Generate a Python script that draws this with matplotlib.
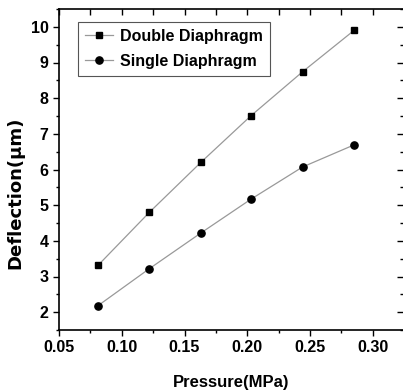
import matplotlib
matplotlib.use("Agg")
import matplotlib.pyplot as plt
from matplotlib.ticker import MultipleLocator

pressure = [0.081, 0.122, 0.163, 0.203, 0.244, 0.285]
double_defl = [3.31, 4.80, 6.20, 7.51, 8.74, 9.90]
single_defl = [2.18, 3.22, 4.22, 5.17, 6.07, 6.69]
x_ticks = [0.05, 0.10, 0.15, 0.20, 0.25, 0.30]
y_ticks = [2, 3, 4, 5, 6, 7, 8, 9, 10]

plt.rcParams['font.family'] = ['Liberation Sans', 'DejaVu Sans']
plt.rcParams['font.weight'] = 'bold'

fig = plt.figure(figsize=(4.03, 3.90), dpi=100)
ax = fig.add_axes([59/403, 60/390, 344/403, 321/390])

ax.plot(pressure, double_defl, color='#999999', lw=0.9, marker='s', ms=4.6,
        mfc='black', mec='black', label='Double Diaphragm')
ax.plot(pressure, single_defl, color='#999999', lw=0.9, marker='o', ms=5.2,
        mfc='black', mec='black', label='Single Diaphragm')

ax.set_xlim(0.05, 0.324)
ax.set_ylim(1.5, 10.5)
ax.set_xticks(x_ticks)
ax.set_xticklabels([f"{v:.2f}" for v in x_ticks])
ax.set_yticks(y_ticks)
ax.xaxis.set_minor_locator(MultipleLocator(0.025))
ax.yaxis.set_minor_locator(MultipleLocator(0.5))

ax.tick_params(axis='both', which='major', labelsize=11.5, width=1.0, length=4.5,
               direction='out', pad=3)
ax.tick_params(axis='both', which='minor', width=1.0, length=2.5, direction='out')
ax.tick_params(axis='x', which='both', top=True)
ax.tick_params(axis='y', which='both', right=True)
for t in ax.get_xticklabels() + ax.get_yticklabels():
    t.set_fontweight('bold')

# Top and right ticks point inward
for tick in ax.xaxis.get_major_ticks() + ax.xaxis.get_minor_ticks():
    tick.tick2line.set_marker(3)  # TICKDOWN
for tick in ax.yaxis.get_major_ticks() + ax.yaxis.get_minor_ticks():
    tick.tick2line.set_marker(0)  # TICKLEFT
for tick in ax.xaxis.get_minor_ticks():
    tick.tick2line.set_markersize(4.5)

for s in ax.spines.values():
    s.set_linewidth(1.2)
ax.spines['right'].set_visible(False)

ax.set_xlabel('Pressure(MPa)', fontsize=12, fontweight='bold', labelpad=14)
ax.set_ylabel('Deflection(\u03bcm)', fontsize=13, fontweight='bold',
              family=['DejaVu Sans'])
ax.yaxis.set_label_coords(-0.10, (330 - 193) / 321)

leg = ax.legend(loc='upper left', bbox_to_anchor=(0.056, 0.960), frameon=True,
                fancybox=False, edgecolor='#555555', framealpha=1,
                prop={'weight': 'bold', 'size': 11.5}, handlelength=1.75,
                handletextpad=0.4, borderpad=0.45, labelspacing=0.6,
                borderaxespad=0)
leg.get_frame().set_linewidth(0.8)

fig.savefig('out.png', dpi=100)
